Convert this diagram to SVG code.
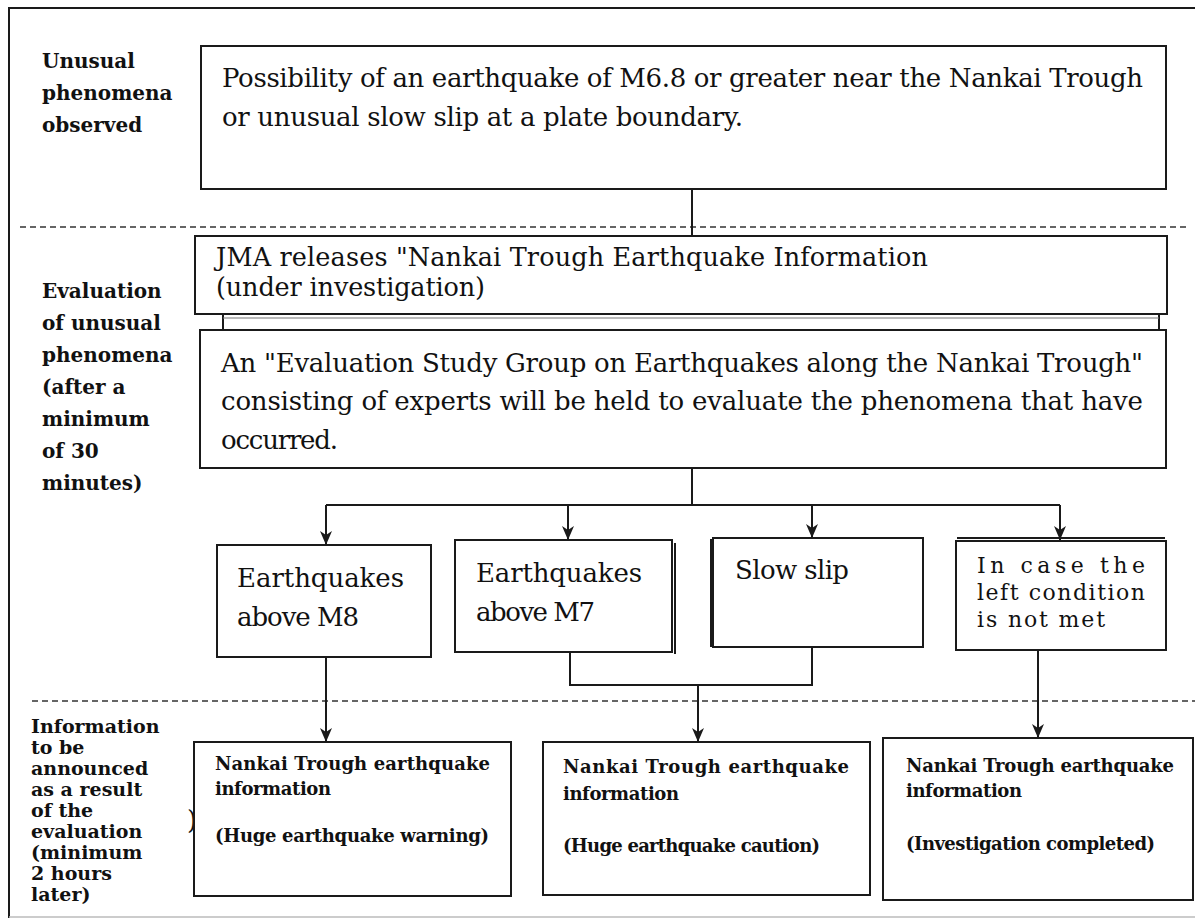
<svg xmlns="http://www.w3.org/2000/svg" width="1195" height="920" viewBox="0 0 1195 920">
<defs>
<style>
.box{fill:#fff;stroke:#1a1a1a;stroke-width:2}
.ln{fill:none;stroke:#1a1a1a;stroke-width:2}
.dash{fill:none;stroke:#333;stroke-width:1.6;stroke-dasharray:6 4}
.lbl{font-family:"DejaVu Serif","Liberation Serif",serif;font-weight:bold;font-size:20px;fill:#111}
.lbl2{font-family:"DejaVu Serif","Liberation Serif",serif;font-weight:bold;font-size:19px;fill:#111}
.t{font-family:"DejaVu Serif","Liberation Serif",serif;font-size:26px;fill:#111}
.tj{font-family:"DejaVu Serif","Liberation Serif",serif;font-size:25.5px;fill:#111}
.tn{font-family:"DejaVu Serif","Liberation Serif",serif;font-size:22px;fill:#111}
.s{font-family:"DejaVu Serif","Liberation Serif",serif;font-weight:bold;font-size:18px;fill:#111}
</style>
<marker id="arr" markerUnits="userSpaceOnUse" markerWidth="14" markerHeight="14" viewBox="0 0 14 14" refX="14" refY="7" orient="auto">
<path d="M0,1 L14,7 L0,13 L4,7 z" fill="#1a1a1a"/>
</marker>
</defs>
<rect width="1195" height="920" fill="#fff"/>
<g id="frame">
<path class="ln" d="M9,918 L9,8 L1195,8"/>
<line x1="9" y1="917" x2="1195" y2="917" stroke="#bbb" stroke-width="1.5"/>
</g>
<g id="separators">
<line class="dash" x1="20" y1="227" x2="1190" y2="227"/>
<line class="dash" x1="32" y1="701" x2="1195" y2="701"/>
</g>
<g id="label-observed">
<text class="lbl" x="42" y="68">Unusual</text>
<text class="lbl" x="42" y="100">phenomena</text>
<text class="lbl" x="42" y="132">observed</text>
</g>
<g id="label-evaluation">
<text class="lbl" x="42" y="298">Evaluation</text>
<text class="lbl" x="42" y="330">of unusual</text>
<text class="lbl" x="42" y="362">phenomena</text>
<text class="lbl" x="42" y="394">(after a</text>
<text class="lbl" x="42" y="426">minimum</text>
<text class="lbl" x="42" y="458">of 30</text>
<text class="lbl" x="42" y="490">minutes)</text>
</g>
<g id="label-information">
<text class="lbl2" x="31" y="733">Information</text>
<text class="lbl2" x="31" y="754">to be</text>
<text class="lbl2" x="31" y="775">announced</text>
<text class="lbl2" x="31" y="796">as a result</text>
<text class="lbl2" x="31" y="817">of the</text>
<text class="lbl2" x="31" y="838">evaluation</text>
<text class="lbl2" x="31" y="859">(minimum</text>
<text class="lbl2" x="31" y="880">2 hours</text>
<text class="lbl2" x="31" y="901">later)</text>
<text class="tj" x="187" y="829" font-size="18">)</text>
</g>
<g id="node-possibility">
<rect class="box" x="201" y="46" width="965" height="143"/>
<text class="t" x="222" y="87" textLength="921" lengthAdjust="spacing">Possibility of an earthquake of M6.8 or greater near the Nankai Trough</text>
<text class="t" x="222" y="126" textLength="521" lengthAdjust="spacing">or unusual slow slip at a plate boundary.</text>
</g>
<g id="node-jma">
<rect class="box" x="195" y="236" width="972" height="78"/>
<text class="tj" x="216" y="266" textLength="712" lengthAdjust="spacing">JMA releases "Nankai Trough Earthquake Information</text>
<text class="tj" x="216" y="296" textLength="269" lengthAdjust="spacing">(under investigation)</text>
</g>
<g id="node-study">
<rect class="box" x="200" y="330" width="966" height="138"/>
<text class="t" x="221" y="372" textLength="922" lengthAdjust="spacing">An "Evaluation Study Group on Earthquakes along the Nankai Trough"</text>
<text class="t" x="221" y="410" textLength="922" lengthAdjust="spacing">consisting of experts will be held to evaluate the phenomena that have</text>
<text class="t" x="221" y="449" textLength="117" lengthAdjust="spacing">occurred.</text>
</g>
<g id="node-m8">
<rect class="box" x="217" y="545" width="214" height="112"/>
<text class="t" x="237" y="587" textLength="167" lengthAdjust="spacing">Earthquakes</text>
<text class="t" x="237" y="626" textLength="122" lengthAdjust="spacing">above M8</text>
</g>
<g id="node-m7">
<line class="ln" x1="675" y1="543" x2="675" y2="654" stroke-width="1.5"/>
<rect class="box" x="455" y="540" width="217" height="112"/>
<text class="t" x="476" y="582" textLength="166" lengthAdjust="spacing">Earthquakes</text>
<text class="t" x="476" y="621" textLength="119" lengthAdjust="spacing">above M7</text>
</g>
<g id="node-slowslip">
<rect class="box" x="713" y="538" width="210" height="109"/>
<line class="ln" x1="711" y1="539" x2="711" y2="647" stroke-width="1.5"/>
<text class="t" x="735" y="579" textLength="114" lengthAdjust="spacing">Slow slip</text>
</g>
<g id="node-notmet">
<rect class="box" x="956" y="541" width="210" height="109"/>
<line class="ln" x1="957" y1="538" x2="1165" y2="538" stroke-width="1.5"/>
<text class="tn" x="977" y="573" textLength="168" lengthAdjust="spacing">In case the</text>
<text class="tn" x="977" y="600" textLength="168" lengthAdjust="spacing">left condition</text>
<text class="tn" x="977" y="627" textLength="128" lengthAdjust="spacing">is not met</text>
</g>
<g id="node-warning">
<rect class="box" x="194" y="742" width="317" height="154"/>
<text class="s" x="215" y="770" textLength="275" lengthAdjust="spacing">Nankai Trough earthquake</text>
<text class="s" x="215" y="795" textLength="116" lengthAdjust="spacing">information</text>
<text class="s" x="215" y="842" textLength="274" lengthAdjust="spacing">(Huge earthquake warning)</text>
</g>
<g id="node-caution">
<rect class="box" x="543" y="742" width="327" height="153"/>
<text class="s" x="563" y="773" textLength="286" lengthAdjust="spacing">Nankai Trough earthquake</text>
<text class="s" x="563" y="800" textLength="116" lengthAdjust="spacing">information</text>
<text class="s" x="563" y="852" textLength="257" lengthAdjust="spacing">(Huge earthquake caution)</text>
</g>
<g id="node-completed">
<rect class="box" x="883" y="738" width="310" height="162"/>
<text class="s" x="906" y="772" textLength="268" lengthAdjust="spacing">Nankai Trough earthquake</text>
<text class="s" x="906" y="797" textLength="116" lengthAdjust="spacing">information</text>
<text class="s" x="906" y="850" textLength="249" lengthAdjust="spacing">(Investigation completed)</text>
</g>
<g id="connectors">
<line class="ln" x1="692" y1="189" x2="692" y2="236"/>
<line class="ln" x1="223" y1="314" x2="223" y2="330"/>
<line class="ln" x1="1159" y1="314" x2="1159" y2="330"/>
<line x1="223" y1="318" x2="1159" y2="318" stroke="#777" stroke-width="1.2"/>
<line class="ln" x1="692" y1="468" x2="692" y2="505"/>
<line class="ln" x1="326" y1="505" x2="1060" y2="505"/>
<line class="ln" x1="326" y1="505" x2="326" y2="545" marker-end="url(#arr)"/>
<line class="ln" x1="568" y1="505" x2="568" y2="540" marker-end="url(#arr)"/>
<line class="ln" x1="812" y1="505" x2="812" y2="538" marker-end="url(#arr)"/>
<line class="ln" x1="1060" y1="505" x2="1060" y2="540" marker-end="url(#arr)"/>
<line class="ln" x1="326" y1="657" x2="326" y2="742" marker-end="url(#arr)"/>
<path class="ln" d="M570,652 L570,685 L812,685 L812,647"/>
<line class="ln" x1="698" y1="685" x2="698" y2="742" marker-end="url(#arr)"/>
<line class="ln" x1="1038" y1="650" x2="1038" y2="738" marker-end="url(#arr)"/>
</g>
</svg>
